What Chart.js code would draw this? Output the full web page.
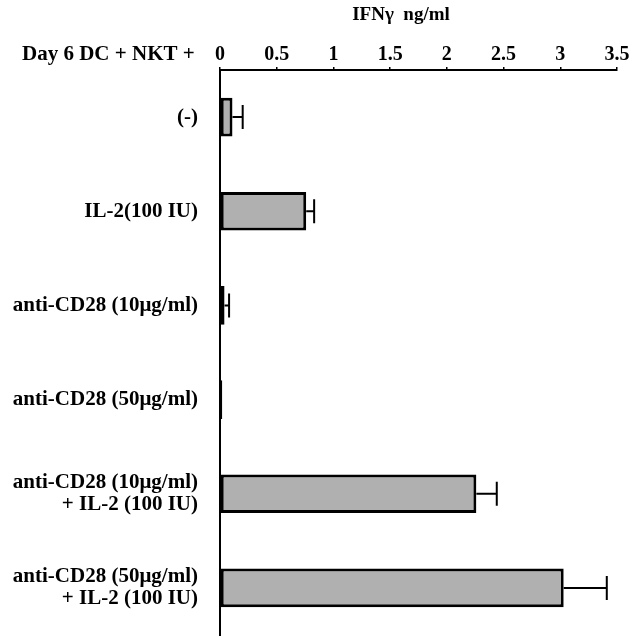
<!DOCTYPE html>
<html>
<head>
<meta charset="utf-8">
<script src="https://cdn.jsdelivr.net/npm/chart.js@4"></script>
<style>
html,body{margin:0;padding:0;background:#fff;}
#wrap{width:629px;height:640px;position:relative;}
</style>
</head>
<body>
<div id="wrap"><canvas id="c" width="629" height="640"></canvas></div>
<script>
const categories = [
  ["(-)"],
  ["IL-2(100 IU)"],
  ["anti-CD28 (10\u03BCg/ml)"],
  ["anti-CD28 (50\u03BCg/ml)"],
  ["anti-CD28 (10\u03BCg/ml)", "+ IL-2 (100 IU)"],
  ["anti-CD28 (50\u03BCg/ml)", "+ IL-2 (100 IU)"]
];
const ifngMean = [0.11, 0.76, 0.04, 0.02, 2.26, 3.03];
const ifngError = [0.09, 0.07, 0.04, 0, 0.18, 0.38];
const xTicks = [0, 0.5, 1, 1.5, 2, 2.5, 3, 3.5];
const axisTitle = "IFN\u03B3  ng/ml";
const rowTitle = "Day 6 DC + NKT +";

const FONT = "'Liberation Serif', 'Times New Roman', serif";

const errorBars = {
  id: 'errorBars',
  afterDatasetsDraw(chart) {
    const ctx = chart.ctx;
    const meta = chart.getDatasetMeta(0);
    const xs = chart.scales.x;
    ctx.save();
    ctx.strokeStyle = '#000';
    ctx.lineWidth = 2;
    meta.data.forEach((bar, i) => {
      const err = ifngError[i];
      if (!err) return;
      const x0 = xs.getPixelForValue(ifngMean[i]);
      const x1 = xs.getPixelForValue(ifngMean[i] + err);
      const y = bar.y;
      ctx.beginPath();
      ctx.moveTo(x0, y);
      ctx.lineTo(x1, y);
      ctx.moveTo(x1, y - 12);
      ctx.lineTo(x1, y + 12);
      ctx.stroke();
    });
    ctx.restore();
  }
};

const texts = {
  id: 'texts',
  afterDraw(chart) {
    const ctx = chart.ctx;
    ctx.save();
    ctx.fillStyle = '#000';
    ctx.textBaseline = 'middle';
    ctx.textAlign = 'center';
    ctx.font = "bold 19px " + FONT;
    ctx.fillText(axisTitle, 401, 15);
    ctx.textAlign = 'left';
    ctx.font = "bold 21px " + FONT;
    ctx.fillText(rowTitle, 22, 55);
    ctx.restore();
  }
};

new Chart(document.getElementById('c'), {
  type: 'bar',
  data: {
    labels: categories,
    datasets: [{
      data: ifngMean,
      backgroundColor: '#b0b0b0',
      borderColor: '#000',
      borderWidth: 3,
      borderSkipped: false,
      barPercentage: 0.41,
      categoryPercentage: 1.0
    }]
  },
  options: {
    indexAxis: 'y',
    responsive: false,
    animation: false,
    devicePixelRatio: 1,
    layout: { padding: { left: 0, right: 12, top: 0, bottom: 5 }, autoPadding: false },
    plugins: { legend: { display: false }, tooltip: { enabled: false } },
    scales: {
      x: {
        position: 'top',
        min: 0,
        max: 3.5,
        afterBuildTicks(scale) { scale.ticks = xTicks.map(v => ({ value: v })); },
        afterFit(scale) { scale.height = 70; scale.paddingLeft = 0; scale.paddingRight = 0; },
        ticks: {
          color: '#000',
          padding: 0,
          maxRotation: 0,
          font: { family: FONT, size: 20, weight: 'bold' },
          callback: v => String(v)
        },
        grid: { drawOnChartArea: false, drawTicks: true, tickLength: 3, color: '#000', lineWidth: 1.5 },
        border: { display: true, color: '#000', width: 2 }
      },
      y: {
        afterFit(scale) { scale.width = 220; scale.paddingTop = 0; scale.paddingBottom = 0; },
        ticks: {
          color: '#000',
          padding: 22,
          font: { family: FONT, size: 21, weight: 'bold', lineHeight: 1.05 }
        },
        grid: { display: false, drawTicks: false },
        border: { display: true, color: '#000', width: 2 }
      }
    }
  },
  plugins: [errorBars, texts]
});
</script>
</body>
</html>
